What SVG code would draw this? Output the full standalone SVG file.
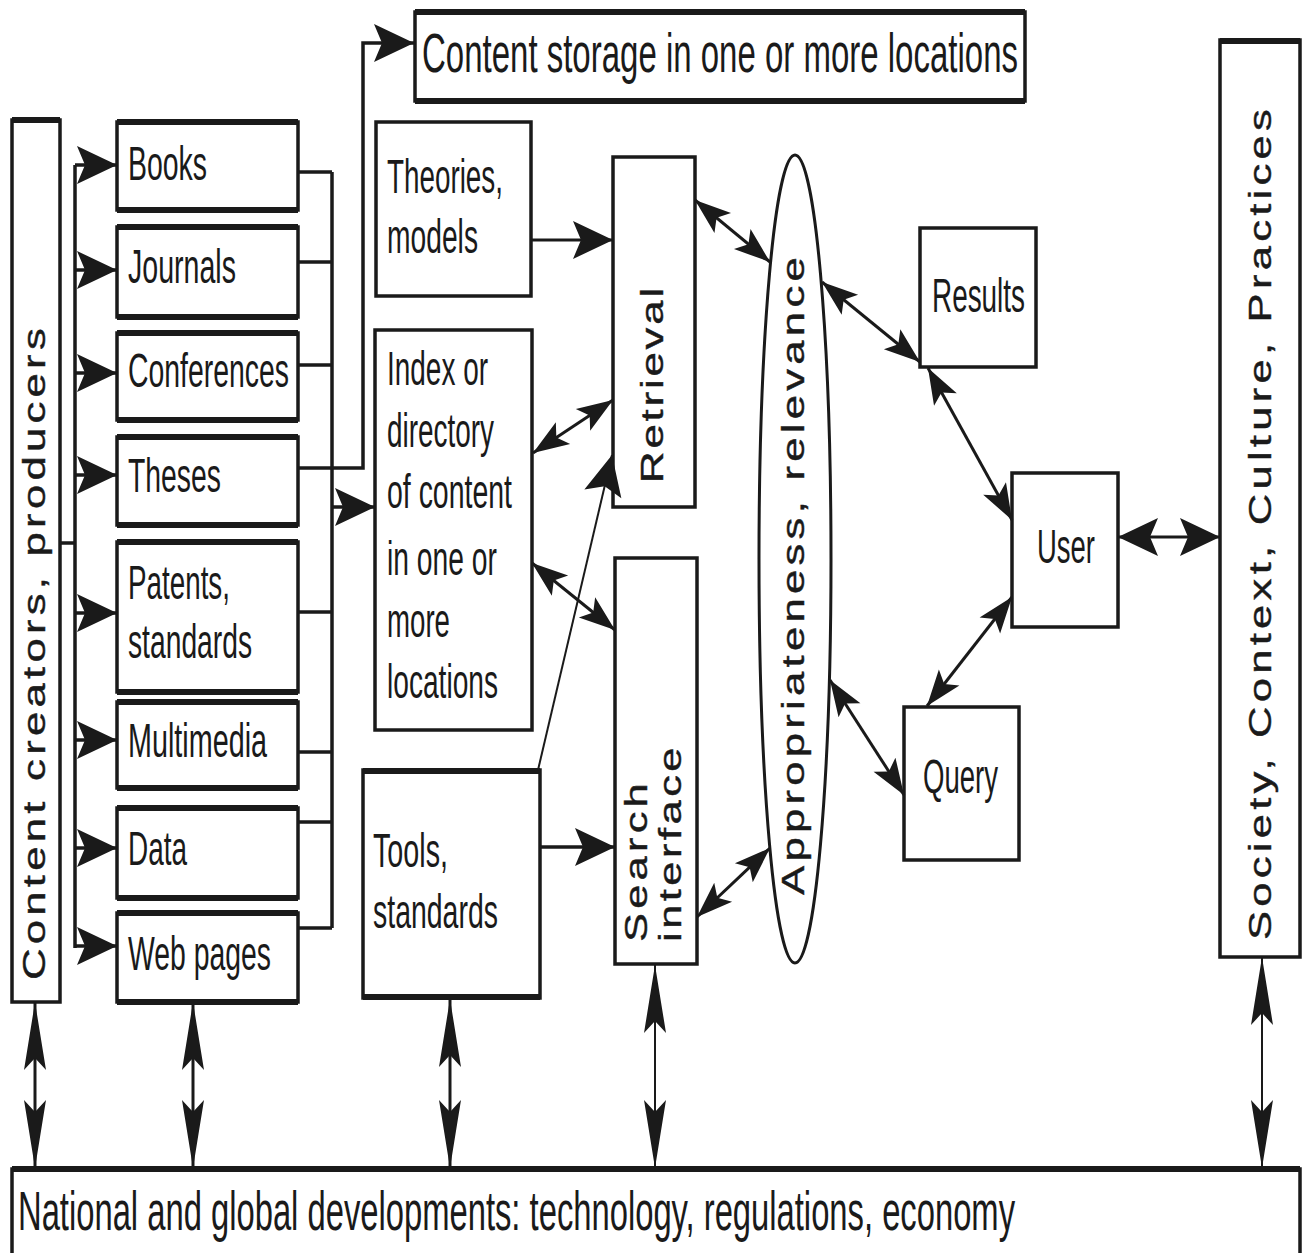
<svg xmlns="http://www.w3.org/2000/svg" width="1303" height="1253" viewBox="0 0 1303 1253">
<defs>
<style>
.box{fill:#fff;stroke:#1a1a1a;stroke-width:3.5}
.he{fill:none;stroke:#1a1a1a;stroke-width:6}
.t{font-family:"Liberation Sans",Arial,Helvetica,sans-serif;font-size:48px;fill:#1a1a1a}
.big{font-size:55px}
.r{font-family:"Liberation Sans",Arial,Helvetica,sans-serif;font-size:31px;fill:#1a1a1a;stroke:#1a1a1a;stroke-width:0.4}
.c{fill:none;stroke:#1a1a1a;stroke-width:3.5}
.d{fill:none;stroke:#1a1a1a;stroke-width:3}
.thin{fill:none;stroke:#1a1a1a;stroke-width:2}
.ah{marker-end:url(#ah)}
.dd{marker-start:url(#dh);marker-end:url(#dh)}
.hh{marker-start:url(#ah);marker-end:url(#ah)}
.vv{marker-start:url(#vh);marker-end:url(#vh)}
</style>
<marker id="ah" markerUnits="userSpaceOnUse" viewBox="-42 -21 44 42" markerWidth="44" markerHeight="42" refX="0" refY="0" orient="auto-start-reverse"><path d="M0,0 L-40,-19 L-32,0 L-40,19 Z" fill="#1a1a1a"/></marker>
<marker id="dh" markerUnits="userSpaceOnUse" viewBox="-38 -15 40 30" markerWidth="40" markerHeight="30" refX="0" refY="0" orient="auto-start-reverse"><path d="M0,0 L-36,-13 L-28,0 L-36,13 Z" fill="#1a1a1a"/></marker>
<marker id="vh" markerUnits="userSpaceOnUse" viewBox="-70 -13 72 26" markerWidth="72" markerHeight="26" refX="0" refY="0" orient="auto-start-reverse"><path d="M0,0 L-68,-11 L-56,0 L-68,11 Z" fill="#1a1a1a"/></marker>
</defs>
<rect x="0" y="0" width="1303" height="1253" fill="#fff"/>

<g id="creators"><rect class="box" x="12" y="120" width="48" height="882"/><path class="he" d="M12,120H60"/><text class="r" font-size="29" letter-spacing="3" transform="translate(45,980) rotate(-90)" textLength="656" lengthAdjust="spacingAndGlyphs">Content creators, producers</text></g>

<g id="books"><rect class="box" x="117" y="122" width="181" height="88"/><path class="he" d="M117,122H298M117,210H298"/><text class="t" transform="translate(128,180) scale(0.6,1)" textLength="131.7" lengthAdjust="spacingAndGlyphs">Books</text></g>
<g id="journals"><rect class="box" x="117" y="227" width="181" height="90"/><path class="he" d="M117,227H298M117,317H298"/><text class="t" transform="translate(128,283) scale(0.6,1)" textLength="180" lengthAdjust="spacingAndGlyphs">Journals</text></g>
<g id="conferences"><rect class="box" x="117" y="333" width="181" height="87"/><path class="he" d="M117,333H298M117,420H298"/><text class="t" transform="translate(128,387) scale(0.6,1)" textLength="268.3" lengthAdjust="spacingAndGlyphs">Conferences</text></g>
<g id="theses"><rect class="box" x="117" y="437" width="181" height="88"/><path class="he" d="M117,437H298M117,525H298"/><text class="t" transform="translate(128,492) scale(0.6,1)" textLength="155" lengthAdjust="spacingAndGlyphs">Theses</text></g>
<g id="patents"><rect class="box" x="117" y="542" width="181" height="150"/><path class="he" d="M117,542H298M117,692H298"/><text class="t" transform="translate(128,599) scale(0.6,1)" textLength="170" lengthAdjust="spacingAndGlyphs">Patents,</text><text class="t" transform="translate(128,658) scale(0.6,1)" textLength="206.7" lengthAdjust="spacingAndGlyphs">standards</text></g>
<g id="multimedia"><rect class="box" x="117" y="702" width="181" height="86"/><path class="he" d="M117,702H298M117,788H298"/><text class="t" transform="translate(128,757) scale(0.6,1)" textLength="231.7" lengthAdjust="spacingAndGlyphs">Multimedia</text></g>
<g id="data"><rect class="box" x="117" y="808" width="181" height="90"/><path class="he" d="M117,808H298M117,898H298"/><text class="t" transform="translate(128,865) scale(0.6,1)" textLength="98.3" lengthAdjust="spacingAndGlyphs">Data</text></g>
<g id="webpages"><rect class="box" x="117" y="913" width="181" height="89"/><path class="he" d="M117,913H298M117,1002H298"/><text class="t" transform="translate(128,970) scale(0.6,1)" textLength="238.3" lengthAdjust="spacingAndGlyphs">Web pages</text></g>

<g id="storage"><rect class="box" x="415" y="12" width="610" height="89"/><path class="he" d="M415,12H1025M415,101H1025"/><text class="t big" transform="translate(422,72) scale(0.6,1)" textLength="993.3" lengthAdjust="spacingAndGlyphs">Content storage in one or more locations</text></g>

<g id="theories"><rect class="box" x="376" y="122" width="155" height="174"/><text class="t" transform="translate(387,193) scale(0.6,1)" textLength="193.3" lengthAdjust="spacingAndGlyphs">Theories,</text><text class="t" transform="translate(387,253) scale(0.6,1)" textLength="151.7" lengthAdjust="spacingAndGlyphs">models</text></g>

<g id="index"><rect class="box" x="375" y="330" width="157" height="400"/>
<text class="t" transform="translate(387,385) scale(0.6,1)" textLength="168.3" lengthAdjust="spacingAndGlyphs">Index or</text>
<text class="t" transform="translate(387,447) scale(0.6,1)" textLength="178.3" lengthAdjust="spacingAndGlyphs">directory</text>
<text class="t" transform="translate(387,508) scale(0.6,1)" textLength="208.3" lengthAdjust="spacingAndGlyphs">of content</text>
<text class="t" transform="translate(387,575) scale(0.6,1)" textLength="183.3" lengthAdjust="spacingAndGlyphs">in one or</text>
<text class="t" transform="translate(387,637) scale(0.6,1)" textLength="105" lengthAdjust="spacingAndGlyphs">more</text>
<text class="t" transform="translate(387,698) scale(0.6,1)" textLength="185" lengthAdjust="spacingAndGlyphs">locations</text></g>

<g id="tools"><rect class="box" x="363" y="770" width="177" height="228"/><path class="he" d="M363,771H540M363,997H540"/><text class="t" transform="translate(373,867) scale(0.6,1)" textLength="125" lengthAdjust="spacingAndGlyphs">Tools,</text><text class="t" transform="translate(373,928) scale(0.6,1)" textLength="208.3" lengthAdjust="spacingAndGlyphs">standards</text></g>

<g id="retrieval"><rect class="box" x="613" y="157" width="82" height="350"/><text class="r" font-size="32" letter-spacing="2" transform="translate(663,483) rotate(-90)" textLength="198" lengthAdjust="spacingAndGlyphs">Retrieval</text></g>

<g id="search"><rect class="box" x="615" y="558" width="82" height="406"/><text class="r" letter-spacing="3" transform="translate(647,942) rotate(-90)" textLength="163" lengthAdjust="spacingAndGlyphs">Search</text><text class="r" letter-spacing="2.5" transform="translate(681,942) rotate(-90)" textLength="198" lengthAdjust="spacingAndGlyphs">interface</text></g>

<g id="appropriateness"><ellipse class="box" cx="795" cy="559" rx="36" ry="404" style="stroke-width:3"/><text class="r" letter-spacing="3" transform="translate(804,895) rotate(-90)" textLength="642" lengthAdjust="spacingAndGlyphs">Appropriateness, relevance</text></g>

<g id="results"><rect class="box" x="920" y="228" width="116" height="139"/><text class="t" transform="translate(932,312) scale(0.6,1)" textLength="155" lengthAdjust="spacingAndGlyphs">Results</text></g>
<g id="user"><rect class="box" x="1012" y="473" width="106" height="154"/><text class="t" transform="translate(1037,563) scale(0.6,1)" textLength="96.7" lengthAdjust="spacingAndGlyphs">User</text></g>
<g id="query"><rect class="box" x="904" y="707" width="115" height="153"/><text class="t" transform="translate(923,793) scale(0.6,1)" textLength="125" lengthAdjust="spacingAndGlyphs">Query</text></g>

<g id="society"><rect class="box" x="1220" y="40" width="80" height="917"/><path class="he" d="M1220,41H1300"/><text class="r" font-size="32" letter-spacing="3" transform="translate(1271,940) rotate(-90)" textLength="835" lengthAdjust="spacingAndGlyphs">Society, Context, Culture, Practices</text></g>

<g id="developments"><rect class="box" x="12" y="1169" width="1288" height="100"/><path class="he" d="M12,1169H1300"/><text class="t big" transform="translate(18,1230) scale(0.6,1)" textLength="1661.7" lengthAdjust="spacingAndGlyphs">National and global developments: technology, regulations, economy</text></g>

<g id="connectors">
<path class="c" d="M60,543H75M75,165V948"/>
<path class="c ah" d="M75,165H117"/>
<path class="c ah" d="M75,270H117"/>
<path class="c ah" d="M75,373H117"/>
<path class="c ah" d="M75,475H117"/>
<path class="c ah" d="M75,613H117"/>
<path class="c ah" d="M75,740H117"/>
<path class="c ah" d="M75,848H117"/>
<path class="c ah" d="M75,946H117"/>
<path class="c" d="M298,172H332M298,262H332M298,365H332M298,612H332M298,752H332M298,822H332M298,928H332M332,172V928"/>
<path class="c ah" d="M332,507H375"/>
<path class="c ah" d="M298,468H363V43H414"/>
<path class="d ah" d="M531,240H613"/>
<path class="c ah" d="M540,847H615"/>
<path class="thin ah" d="M538,770L612,455"/>
<path class="d dd" d="M533,453L613,400"/>
<path class="d dd" d="M532,563L615,630"/>
<path class="d dd" d="M695,200L770,262"/>
<path class="d dd" d="M697,917L770,848"/>
<path class="d dd" d="M822,282L920,362"/>
<path class="d dd" d="M928,368L1012,520"/>
<path class="d dd" d="M1012,597L927,706"/>
<path class="d dd" d="M830,680L904,795"/>
<path class="d hh" d="M1118,537H1220"/>
<path class="d vv" d="M35,1002V1168"/>
<path class="d vv" d="M193,1002V1168"/>
<path class="d vv" d="M450,999V1168"/>
<path class="thin vv" d="M655,965V1168"/>
<path class="thin vv" d="M1262,957V1168"/>
</g>
</svg>
